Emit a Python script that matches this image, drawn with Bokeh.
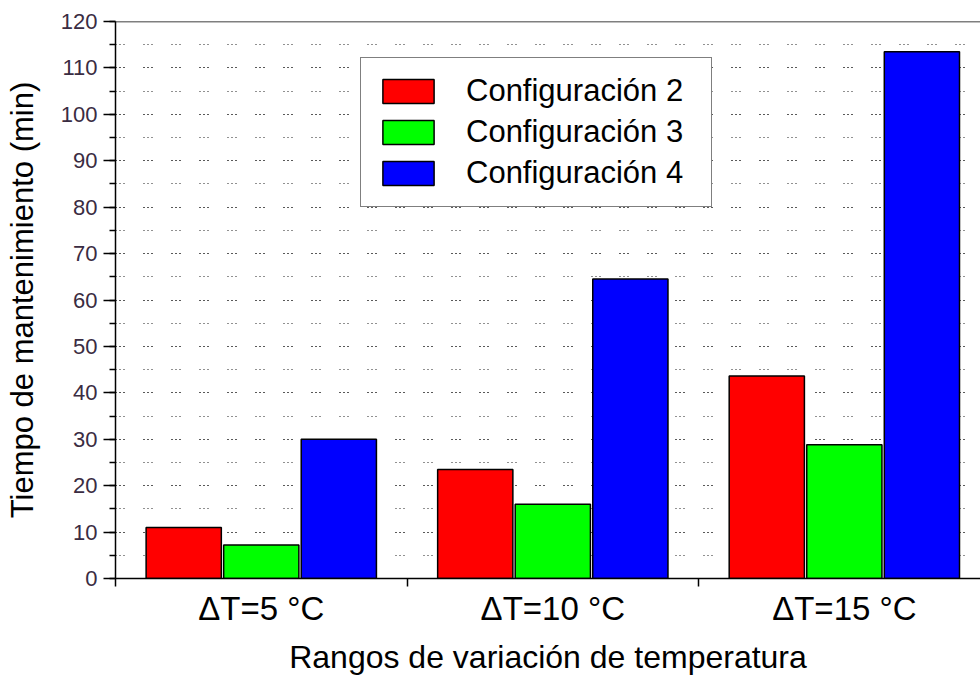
from bokeh.plotting import figure
from bokeh.models import (Range1d, FixedTicker, SingleIntervalTicker, Span, Legend,
                          LegendItem, Grid, ColumnDataSource)
from bokeh.transform import dodge
from bokeh.embed import file_html
from bokeh.resources import INLINE

# ---- data ----
categories = ["ΔT=5 °C", "ΔT=10 °C", "ΔT=15 °C"]
series_names = ["Configuración 2", "Configuración 3", "Configuración 4"]
config2 = [11.0, 23.5, 43.6]
config3 = [7.2, 16.0, 28.8]
config4 = [30.0, 64.5, 113.5]
colors = ["#ff0000", "#00ff00", "#0000ff"]

FONT = "Liberation Sans"

x_centers = [i + 0.5 for i in range(len(categories))]
src = ColumnDataSource(dict(x=x_centers, c2=config2, c3=config3, c4=config4))

p = figure(width=980, height=678, x_range=Range1d(0, 2.967), y_range=Range1d(0, 120),
           output_backend="svg", toolbar_location=None,
           min_border_left=115, min_border_right=0, min_border_top=21, min_border_bottom=100)
p.outline_line_color = None
p.background_fill_color = "white"
p.border_fill_color = "white"

# light dotted lines at every 5
light_grid = Grid(dimension=1, ticker=SingleIntervalTicker(interval=5),
                  grid_line_color="#b0b0b0", grid_line_dash="1 6", grid_line_width=1)
p.add_layout(light_grid)
p.xgrid.visible = False
p.ygrid.grid_line_color = "#222222"
p.ygrid.grid_line_dash = "1 3 1 3 1 19"
p.ygrid.grid_line_width = 1

offsets = [-0.266, 0.0, 0.266]
bar_w = 0.258
renderers = []
for col, off, color in zip(["c2", "c3", "c4"], offsets, colors):
    r = p.vbar(x=dodge("x", off), top=col, width=bar_w, bottom=0, source=src,
               fill_color=color, line_color="black", line_width=1.5)
    renderers.append(r)

p.add_layout(Span(location=120, dimension="width", line_color="black", line_width=1.5))

# x axis
xa = p.xaxis[0]
xa.ticker = FixedTicker(ticks=x_centers, minor_ticks=[0, 1, 2, 3])
xa.major_label_overrides = {x: c for x, c in zip(x_centers, categories)}
xa.major_tick_line_color = None
xa.major_tick_out = 4
xa.major_tick_in = 0
xa.minor_tick_out = 8
xa.minor_tick_in = 0
xa.minor_tick_line_color = "black"
xa.minor_tick_line_width = 1.5
xa.axis_line_width = 1.5
xa.axis_line_color = "black"
xa.major_label_text_font = FONT
xa.major_label_text_font_size = "33px"
xa.major_label_text_color = "black"
xa.major_label_standoff = 3
xa.axis_label = "Rangos de variación de temperatura"
xa.axis_label_text_font = FONT
xa.axis_label_text_font_size = "32px"
xa.axis_label_text_font_style = "normal"
xa.axis_label_text_color = "black"
xa.axis_label_standoff = 9

# y axis
ya = p.yaxis[0]
ya.ticker = SingleIntervalTicker(interval=10, num_minor_ticks=2)
ya.major_tick_out = 12
ya.major_tick_in = 0
ya.minor_tick_out = 6
ya.minor_tick_in = 0
ya.major_tick_line_width = 1.5
ya.minor_tick_line_width = 1.5
ya.axis_line_width = 1.5
ya.axis_line_color = "black"
ya.major_label_text_font = FONT
ya.major_label_text_font_size = "22px"
ya.major_label_text_color = "#3a2c42"
ya.major_label_standoff = 6
ya.axis_label = "Tiempo de mantenimiento (min)"
ya.axis_label_text_font = FONT
ya.axis_label_text_font_size = "31px"
ya.axis_label_text_font_style = "normal"
ya.axis_label_text_color = "black"
ya.axis_label_standoff = 18

legend = Legend(items=[LegendItem(label=n, renderers=[r]) for n, r in zip(series_names, renderers)],
                location=(245, 371))
legend.label_text_font = FONT
legend.label_text_font_size = "31px"
legend.label_text_color = "black"
legend.glyph_width = 64
legend.glyph_height = 30
legend.label_standoff = 26
legend.label_width = 230
legend.spacing = 5
legend.padding = 15
legend.margin = 0
legend.border_line_color = "black"
legend.border_line_width = 1.5
legend.background_fill_alpha = 1.0
p.add_layout(legend)

open("out.html", "w").write(file_html(p, INLINE))
